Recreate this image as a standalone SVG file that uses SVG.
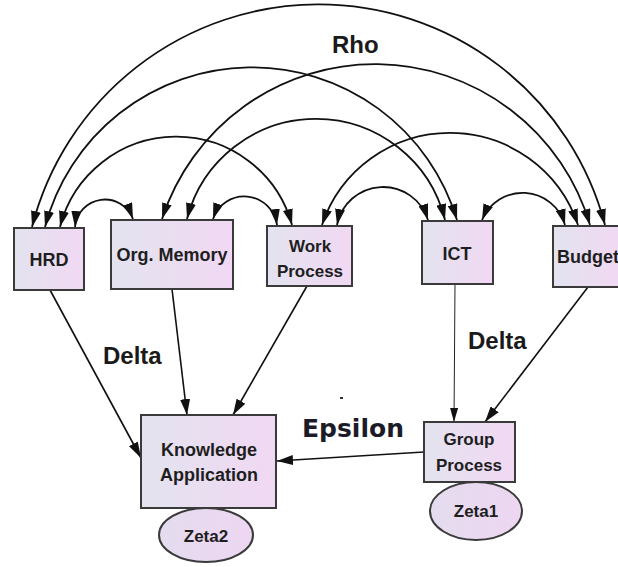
<svg xmlns="http://www.w3.org/2000/svg" width="618" height="567" viewBox="0 0 618 567">
  <defs>
    <linearGradient id="boxFill" x1="0" y1="0" x2="1" y2="0">
      <stop offset="0" stop-color="#e3e3ef"/>
      <stop offset="1" stop-color="#f1d8f3"/>
    </linearGradient>
    <linearGradient id="ovalFill" x1="0" y1="0" x2="1" y2="0">
      <stop offset="0" stop-color="#e4dcee"/>
      <stop offset="1" stop-color="#eed6f2"/>
    </linearGradient>
    <marker id="head" viewBox="0 0 16 10" refX="16" refY="5" markerWidth="16" markerHeight="10" markerUnits="userSpaceOnUse" orient="auto-start-reverse">
      <path d="M0,0 L16,5 L0,10 z" fill="#111"/>
    </marker>
    <marker id="headThin" viewBox="0 0 14 8" refX="14" refY="4" markerWidth="14" markerHeight="8" markerUnits="userSpaceOnUse" orient="auto">
      <path d="M0,0 L14,4 L0,8 z" fill="#111"/>
    </marker>
  </defs>
  <style>
    .box { fill: url(#boxFill); stroke: #3a3a3a; stroke-width: 2; }
    .oval { fill: url(#ovalFill); stroke: #3a3a3a; stroke-width: 2; }
    .lbl { font-family: "Liberation Sans", Arial, sans-serif; font-weight: bold; font-size: 18px; fill: #1e1e1e; text-anchor: middle; }
    .lbl2 { font-family: "Liberation Sans", Arial, sans-serif; font-weight: bold; font-size: 17px; fill: #1e1e1e; text-anchor: middle; }
    .tag { font-family: "Liberation Sans", Arial, sans-serif; font-weight: bold; font-size: 24px; fill: #1a1a1a; }
    .eps { font-family: "DejaVu Sans", sans-serif; font-weight: bold; font-size: 25px; fill: #1c1c28; }
    .arc { fill: none; stroke: #111; stroke-width: 1.8; marker-start: url(#head); marker-end: url(#head); }
    .path { fill: none; stroke: #111; stroke-width: 1.6; marker-end: url(#head); }
    .thin { fill: none; stroke: #222; stroke-width: 1; marker-end: url(#headThin); }
  </style>

  <rect width="618" height="567" fill="#ffffff"/>

  <!-- correlation arcs (Rho) and structural paths -->
  <g id="connectors">
    <path class="arc" d="M32,227 A296,296 0 0 1 605,225"/>
    <path class="arc" d="M45,227 A214,214 0 0 1 457,220"/>
    <path class="arc" d="M162,219 A224,224 0 0 1 590,225"/>
    <path class="arc" d="M60,227 A120,120 0 0 1 292,225"/>
    <path class="arc" d="M187,219 A133,133 0 0 1 445,220"/>
    <path class="arc" d="M322,225 A135,135 0 0 1 578,225"/>
    <path class="arc" d="M75,227 A30,30 0 0 1 133,219"/>
    <path class="arc" d="M213,219 A33,33 0 0 1 277,225"/>
    <path class="arc" d="M337,225 A47,47 0 0 1 428,220"/>
    <path class="arc" d="M482,220 A44,44 0 0 1 565,225"/>

    <path class="path" d="M50,290 L141,458"/>
    <path class="path" d="M172,289 L187,415"/>
    <path class="path" d="M307,286 L233,415"/>
    <path class="thin" d="M455,284 L454,422"/>
    <path class="path" d="M588,287 L485,422"/>
    <path class="path" d="M424,452 L277,461"/>

    <text class="tag" x="332" y="53">Rho</text>
    <text class="tag" x="103" y="364">Delta</text>
    <text class="tag" x="468" y="349">Delta</text>
    <text class="eps" x="302" y="437">Epsilon</text>
    <rect x="340" y="397" width="3" height="2" fill="#333"/>
  </g>

  <g id="hrd">
    <rect class="box" x="14" y="228" width="70" height="62"/>
    <text class="lbl" x="49" y="266">HRD</text>
  </g>

  <g id="org-memory">
    <rect class="box" x="111" y="220" width="122" height="69"/>
    <text class="lbl" x="172" y="261">Org. Memory</text>
  </g>

  <g id="work-process">
    <rect class="box" x="267" y="226" width="85" height="60"/>
    <text class="lbl2" x="310" y="252">Work</text>
    <text class="lbl2" x="310" y="277">Process</text>
  </g>

  <g id="ict">
    <rect class="box" x="422" y="221" width="71" height="63"/>
    <text class="lbl" x="457" y="260">ICT</text>
  </g>

  <g id="budget">
    <rect class="box" x="553" y="226" width="70" height="61"/>
    <text class="lbl" x="588" y="263">Budget</text>
  </g>

  <g id="knowledge-application">
    <rect class="box" x="141" y="415" width="135" height="93"/>
    <text class="lbl" x="209" y="456">Knowledge</text>
    <text class="lbl" x="209" y="481">Application</text>
  </g>

  <g id="group-process">
    <rect class="box" x="424" y="422" width="91" height="60"/>
    <text class="lbl2" x="469" y="445">Group</text>
    <text class="lbl2" x="469" y="471">Process</text>
  </g>

  <g id="zeta2">
    <ellipse class="oval" cx="206" cy="535" rx="47" ry="27"/>
    <text class="lbl2" x="206" y="542">Zeta2</text>
  </g>

  <g id="zeta1">
    <ellipse class="oval" cx="476" cy="511" rx="46" ry="29"/>
    <text class="lbl2" x="476" y="517">Zeta1</text>
  </g>
</svg>
